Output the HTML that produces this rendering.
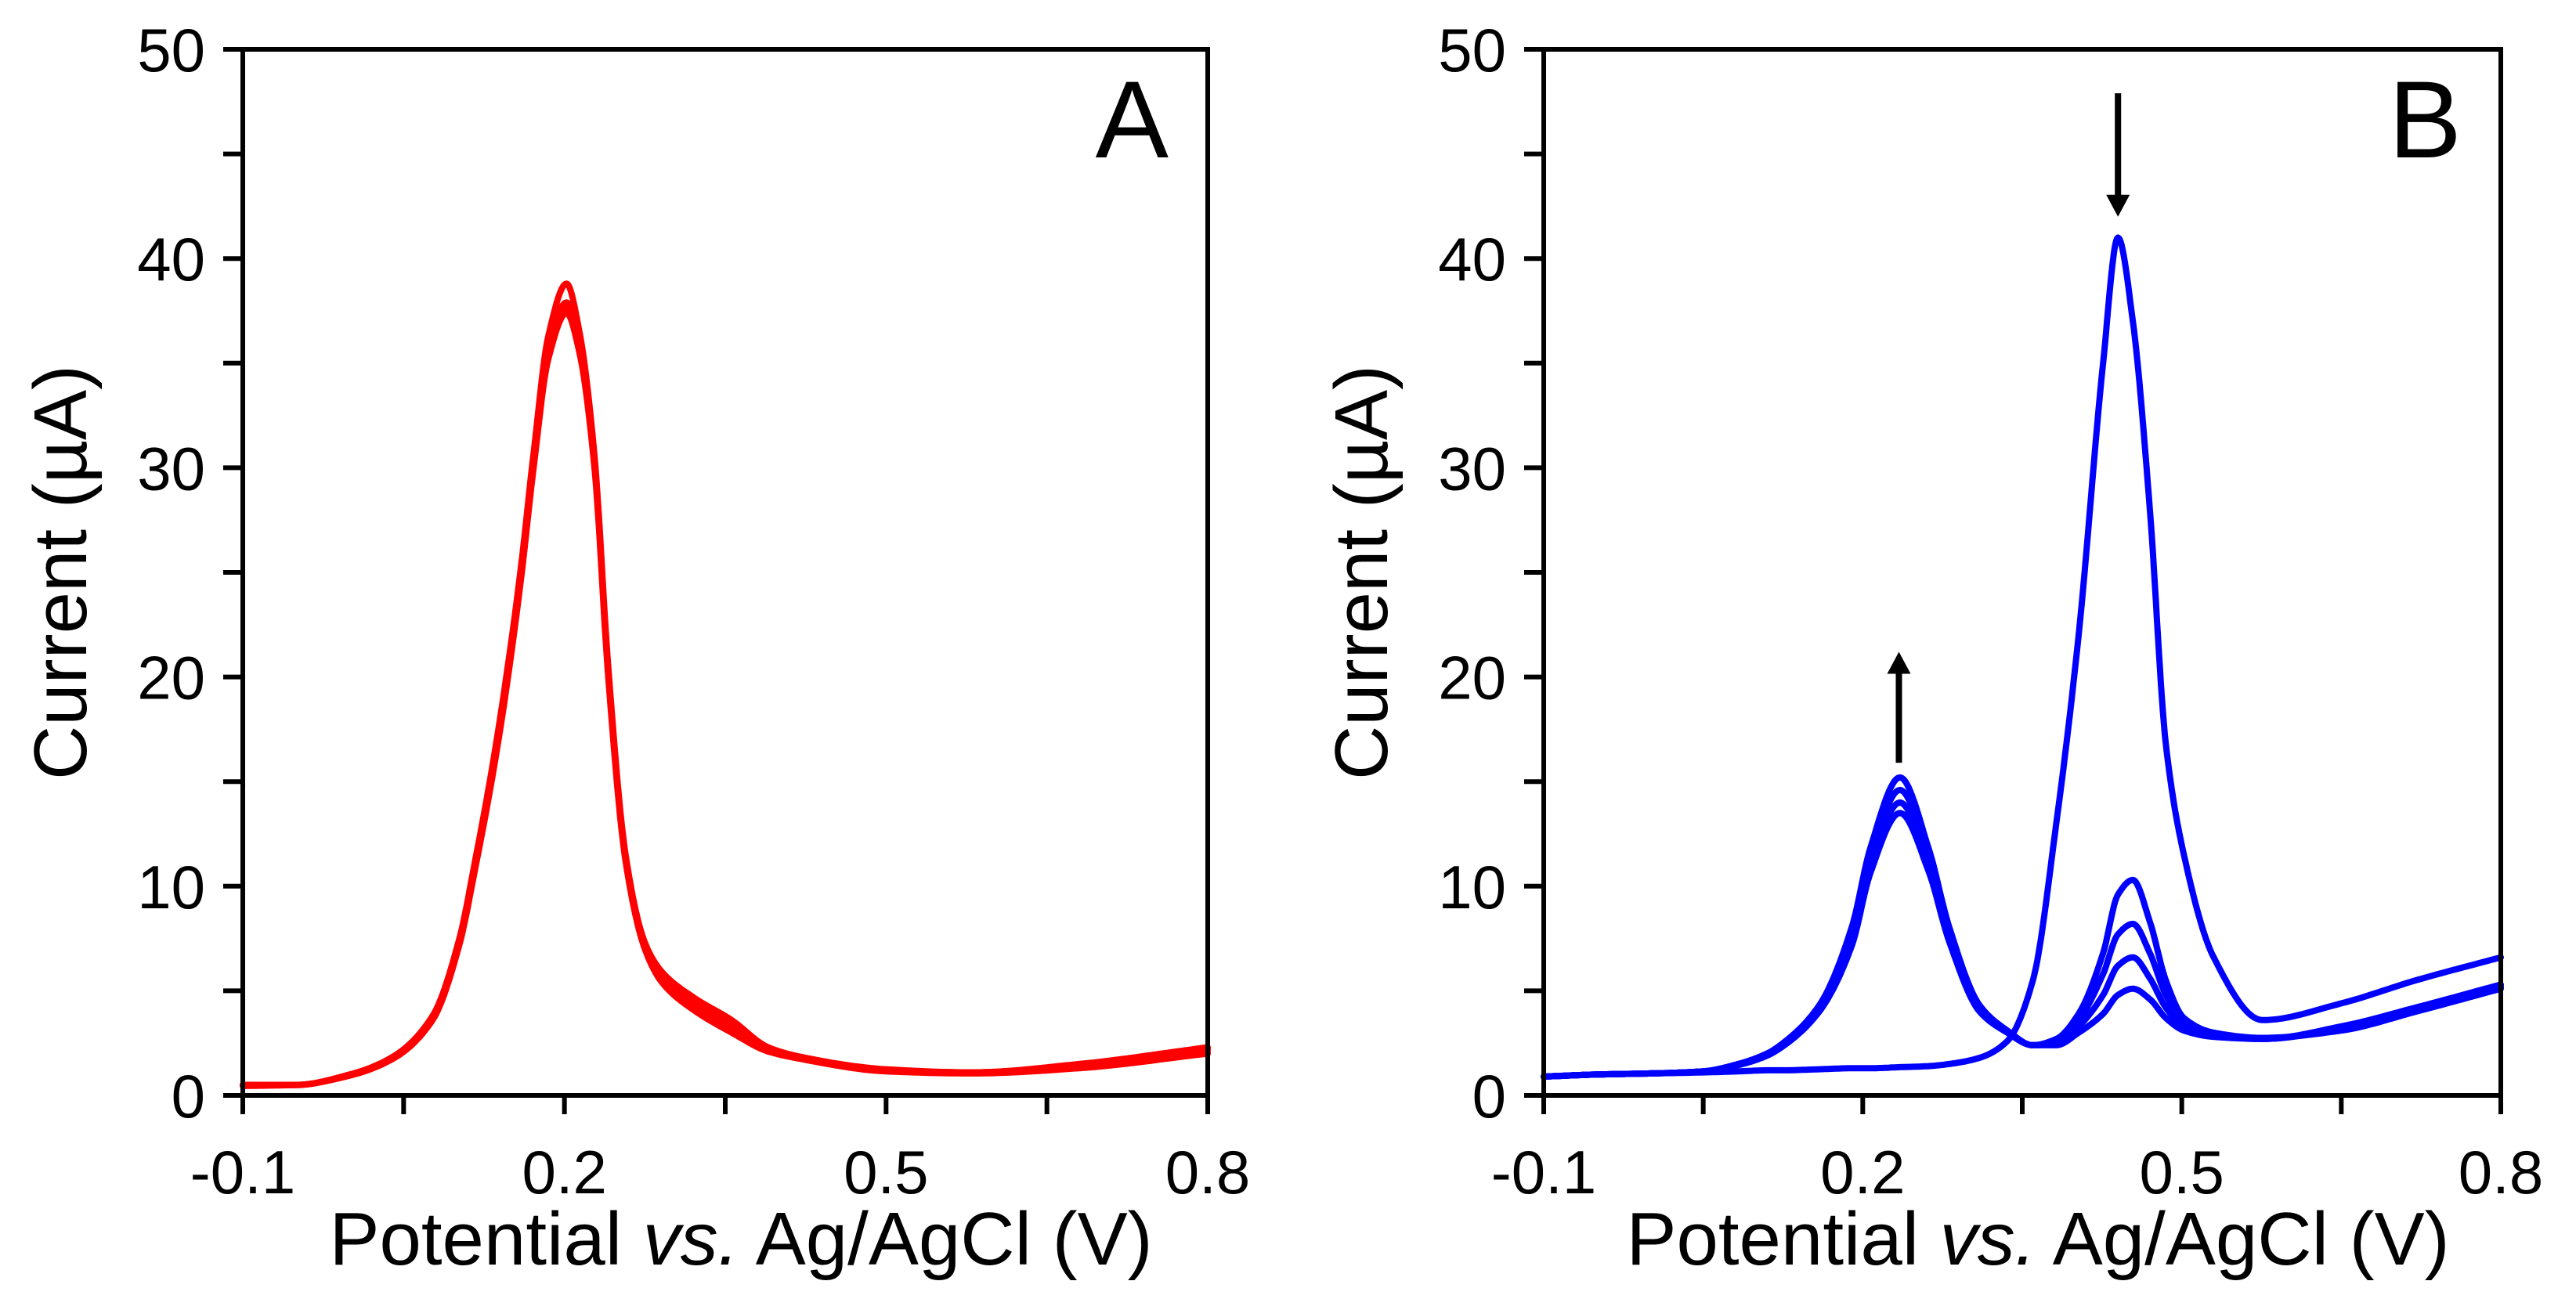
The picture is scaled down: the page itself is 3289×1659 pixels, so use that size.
<!DOCTYPE html>
<html><head><meta charset="utf-8">
<style>
html,body{margin:0;padding:0;background:#fff;}
svg{display:block;}
text{font-family:"Liberation Sans",Arial,sans-serif;fill:#000;}
</style></head>
<body>
<svg id="fig" width="3289" height="1659" viewBox="0 0 3289 1659" xmlns="http://www.w3.org/2000/svg"></svg>
<script>
// ---------- Data ----------
const xTicksMajor = [-0.1, 0.2, 0.5, 0.8];
const xTickLabels = ["-0.1", "0.2", "0.5", "0.8"];
const xTicksMinor = [0.05, 0.35, 0.65];
const yTicksMajor = [0, 10, 20, 30, 40, 50];
const yTickLabels = ["0", "10", "20", "30", "40", "50"];
const yTicksMinor = [5, 15, 25, 35, 45];

const potentialsA = [-0.1,-0.05,0,0.04,0.077,0.102,0.117,0.132,0.146,0.16,0.171,0.185,0.202,0.214,0.228,0.241,0.257,0.275,0.291,0.32,0.356,0.39,0.42,0.5,0.58,0.68,0.8];
const currentA1 = [0.5,0.5,1.0,1.8,3.7,7.4,11.2,15.4,20,25.5,30.6,36.3,38.8,36.5,30.6,20.4,11.5,7.2,5.6,4.3,3.2,2.2,1.8,1.2,1.1,1.4,2.2];
const currentA2 = [0.5,0.5,1.0,1.8,3.7,7.3,11.0,15.2,19.7,25.1,30.1,35.5,37.7,35.8,30.2,20.1,11.4,7.3,5.8,4.6,3.5,2.3,1.8,1.2,1.1,1.4,2.1];
const currentA3 = [0.45,0.5,0.95,1.75,3.6,7.2,10.9,15.0,19.5,24.9,29.9,35.2,37.4,35.5,30.0,19.9,11.2,7.0,5.4,4.1,3.0,2.1,1.75,1.15,1.05,1.3,2.0];
const currentA4 = [0.5,0.5,1.0,1.85,3.8,7.5,11.3,15.5,20.1,25.4,30.4,35.8,37.9,36.0,30.4,20.2,11.5,7.3,5.9,4.7,3.6,2.3,1.85,1.25,1.1,1.5,2.3];
const currentA5 = [0.5,0.5,1.0,1.8,3.7,7.4,11.1,15.3,19.8,25.2,30.2,35.6,37.6,35.7,30.3,20.0,11.3,7.1,5.5,4.2,3.1,2.2,1.75,1.2,1.1,1.45,2.25];

const potentialsB = [-0.1,-0.05,0,0.05,0.083,0.11,0.125,0.159,0.19,0.207,0.235,0.262,0.281,0.31,0.336,0.36,0.382,0.403,0.426,0.44,0.454,0.47,0.485,0.502,0.53,0.576,0.65,0.72,0.8];
const currentB0 = [0.9,1.0,1.05,1.1,1.15,1.2,1.2,1.25,1.3,1.3,1.35,1.4,1.5,1.8,2.6,5.5,13,22,35,41,37,28,16.8,11.5,6.6,3.6,4.4,5.5,6.6];
const currentB1 = [0.9,1.0,1.05,1.15,1.45,1.9,2.35,4.0,7.2,10.6,13.5,10.7,7.4,4.0,3.0,2.4,2.7,3.9,6.8,9.6,10.3,8.3,5.5,3.7,3.0,2.75,3.1,4.0,5.1];
const currentB2 = [0.9,1.0,1.05,1.15,1.5,1.95,2.4,4.1,7.5,11.0,14.0,11.0,7.6,4.1,3.0,2.4,2.6,3.6,5.8,7.7,8.2,6.8,4.8,3.5,2.9,2.7,3.2,4.1,5.2];
const currentB3 = [0.9,1.0,1.05,1.15,1.5,2.0,2.45,4.2,7.8,11.4,14.6,11.4,7.8,4.2,3.0,2.4,2.5,3.3,4.8,6.2,6.6,5.6,4.2,3.3,2.9,2.7,3.2,4.1,5.2];
const currentB4 = [0.9,1.0,1.05,1.15,1.5,2.0,2.5,4.3,8.1,11.8,15.2,11.8,8.1,4.3,3.1,2.4,2.4,3.0,3.9,4.8,5.1,4.6,3.7,3.1,2.8,2.7,3.3,4.2,5.3];

const arrowUp = {v:0.234, from:15.9, to:21.2};
const arrowDown = {v:0.44, from:47.9, to:42.0};

// ---------- Drawing ----------
const NS = "http://www.w3.org/2000/svg";
const svg = document.getElementById("fig");
function mk(tag, attrs, parent){ const e=document.createElementNS(NS,tag); for(const k in attrs) e.setAttribute(k,attrs[k]); (parent||svg).appendChild(e); return e; }

function monotonePath(xs, ys, X, Y){
  const n = xs.length, d = [], m = [];
  for(let i=0;i<n-1;i++) d.push((ys[i+1]-ys[i])/(xs[i+1]-xs[i]));
  m[0]=d[0]; m[n-1]=d[n-2];
  for(let i=1;i<n-1;i++){
    if(d[i-1]*d[i] <= 0) m[i]=0;
    else { const w1=2*(xs[i+1]-xs[i])+(xs[i]-xs[i-1]), w2=(xs[i+1]-xs[i])+2*(xs[i]-xs[i-1]); m[i]=(w1+w2)/(w1/d[i-1]+w2/d[i]); }
  }
  let path = "M"+X(xs[0]).toFixed(1)+","+Y(ys[0]).toFixed(1);
  for(let i=0;i<n-1;i++){
    const h = xs[i+1]-xs[i];
    for(let k=1;k<=16;k++){
      const t=k/16, t2=t*t, t3=t2*t;
      const y=(2*t3-3*t2+1)*ys[i]+(t3-2*t2+t)*h*m[i]+(-2*t3+3*t2)*ys[i+1]+(t3-t2)*h*m[i+1];
      path+=" L"+X(xs[i]+t*h).toFixed(1)+","+Y(y).toFixed(1);
    }
  }
  return path;
}

function panel(cfg){
  const g = mk("g",{});
  
  
  const X = v => cfg.x0 + (v - (-0.1)) / 0.9 * (cfg.x1 - cfg.x0);
  const Y = v => cfg.y1 - v / 50 * (cfg.y1 - cfg.y0);
  cfg.series.forEach((s, i) => {
    const path = mk("path",{d:monotonePath(cfg.pot, s, X, Y), fill:"none", stroke:cfg.color, "stroke-width":8, "stroke-linejoin":"round", "stroke-linecap":"round"}, g);
    
    
  });
  const frame = mk("rect",{x:cfg.x0, y:cfg.y0, width:cfg.x1-cfg.x0, height:cfg.y1-cfg.y0, fill:"none", stroke:"#000", "stroke-width":6}, g);
  
  
  xTicksMajor.concat(xTicksMinor).forEach(v => {
    const t = mk("line",{x1:X(v), x2:X(v), y1:cfg.y1, y2:cfg.y1+24, stroke:"#000", "stroke-width":6}, g);
    
    
  });
  xTicksMajor.forEach((v, i) => {
    const t = mk("text",{x:X(v), y:1524, "font-size":78, "text-anchor":"middle"}, g);
    t.textContent = xTickLabels[i];
    
    
  });
  yTicksMajor.concat(yTicksMinor).forEach(v => {
    const t = mk("line",{x1:cfg.x0-25, x2:cfg.x0, y1:Y(v), y2:Y(v), stroke:"#000", "stroke-width":6}, g);
    
    
  });
  yTicksMajor.forEach((v, i) => {
    const t = mk("text",{x:cfg.x0-48, y:Y(v)+28, "font-size":78, "text-anchor":"end"}, g);
    t.textContent = yTickLabels[i];
    
    
  });
  const xt = mk("text",{x:(cfg.x0+cfg.x1)/2+20, y:1615, "font-size":96, "text-anchor":"middle"}, g);
  
  
  xt.innerHTML = 'Potential <tspan font-style="italic">vs.</tspan> Ag/AgCl (V)';
  const yt = mk("text",{x:0, y:0, "font-size":96, "text-anchor":"middle", transform:"translate("+(cfg.x0-200)+","+((cfg.y0+cfg.y1)/2)+") rotate(-90)"}, g);
  
  
  yt.textContent = "Current (\u00b5A)";
  const pl = mk("text",{x:cfg.x1-50, y:201, "font-size":140, "text-anchor":"end"}, g);
  
  
  pl.textContent = cfg.letter;
  return {g, X, Y};
}

panel({name:"panel-a", letter:"A", x0:310, x1:1542, y0:63, y1:1399, color:"#ff0000", seriesName:"red-curve",
  pot:potentialsA, series:[currentA1,currentA2,currentA3,currentA4,currentA5]});
const pb = panel({name:"panel-b", letter:"B", x0:1971, x1:3193, y0:63, y1:1399, color:"#0000ff", seriesName:"blue-curve",
  pot:potentialsB, series:[currentB0,currentB1,currentB2,currentB3,currentB4]});

function arrow(a, name){
  const x = pb.X(a.v), y1 = pb.Y(a.from), y2 = pb.Y(a.to);
  const dir = y2 < y1 ? -1 : 1;
  const ag = mk("g",{}, pb.g);
  
  
  mk("line",{x1:x, x2:x, y1:y1, y2:y2 - dir*26, stroke:"#000", "stroke-width":8}, ag);
  mk("polygon",{points:(x-15)+","+(y2-dir*28)+" "+(x+15)+","+(y2-dir*28)+" "+x+","+y2, fill:"#000"}, ag);
}
arrow(arrowUp, "arrow-up");
arrow(arrowDown, "arrow-down");
</script>
</body></html>
